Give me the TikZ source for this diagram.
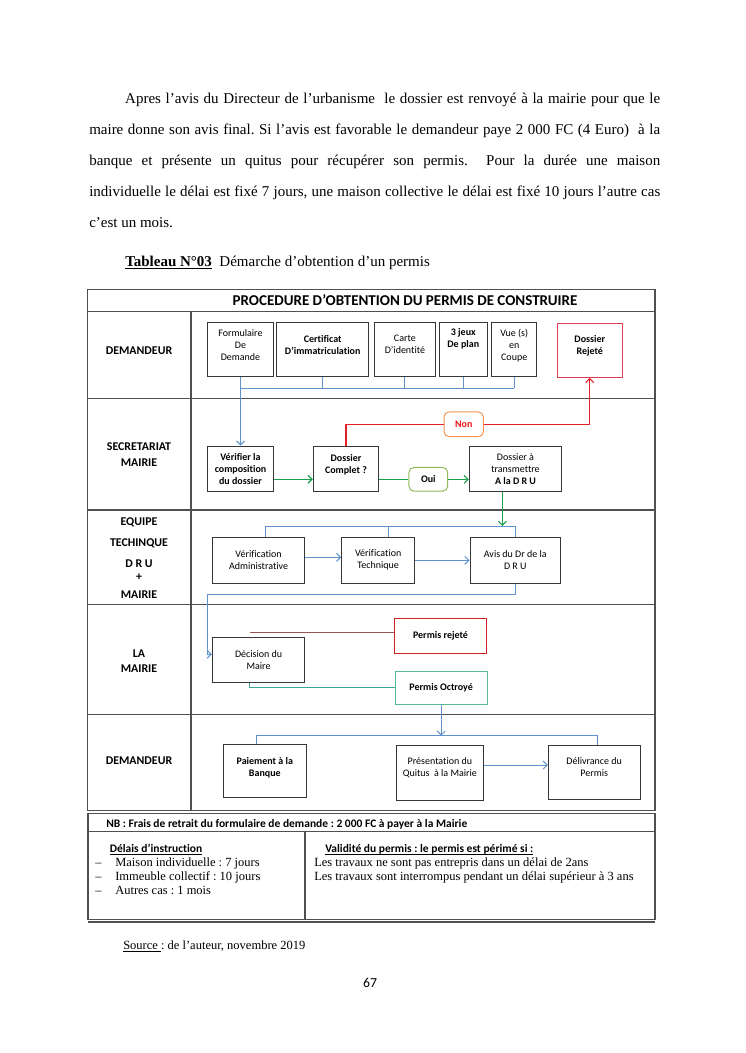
\documentclass[tikz,border=0pt]{standalone}
\usepackage{fontspec}
\setmainfont[Ligatures={TeX,NoCommon}]{Liberation Serif}
\newfontfamily\calibri[Ligatures=NoCommon]{Carlito}
\usetikzlibrary{arrows.meta}
\definecolor{boxgray}{RGB}{55,55,55}
\definecolor{framegray}{RGB}{80,80,80}
\definecolor{lineblue}{RGB}{95,145,205}
\definecolor{linegreen}{RGB}{25,160,75}
\definecolor{linered}{RGB}{228,30,40}
\definecolor{linebrown}{RGB}{150,85,80}
\definecolor{lineteal}{RGB}{60,165,150}
\definecolor{rejred}{RGB}{225,60,80}
\definecolor{prejred}{RGB}{210,35,35}
\definecolor{octgreen}{RGB}{85,185,150}
\definecolor{nonorange}{RGB}{240,150,80}
\definecolor{nonred}{RGB}{240,20,20}
\definecolor{ouigreen}{RGB}{145,185,90}
\newcommand{\lift}[1]{\rule[-#1]{0pt}{#1}}
\newcommand{\ul}[1]{\underline{\smash{#1}}}
\frenchspacing

\begin{document}
\begin{tikzpicture}[x=0.8pt,y=-0.8pt,>={Straight Barb[length=3.2pt,width=6.4pt]},
  every node/.style={inner sep=0pt},
  sz/.style 2 args={minimum width=#1*0.8pt,minimum height=#2*0.8pt},
  box/.style={draw=boxgray,line width=0.8pt,align=center,font=\calibri\fontsize{8}{9.6}\selectfont},
  boxb/.style={box,font=\calibri\bfseries\fontsize{8}{9.6}\selectfont},
  tag/.style={boxb,rounded corners=4pt},
  lab/.style={align=center,font=\calibri\bfseries\fontsize{9.5}{12.8}\selectfont},
  frame/.style={draw=framegray,line width=0.9pt},
  blueline/.style={draw=lineblue,line width=0.8pt},
  greenline/.style={draw=linegreen,line width=0.9pt},
  redline/.style={draw=linered,line width=0.9pt},
  brownline/.style={draw=linebrown,line width=0.8pt},
  tealline/.style={draw=lineteal,line width=0.8pt},
  body/.style={font=\fontsize{12}{24.8}\selectfont},
  note/.style={font=\fontsize{10}{12}\selectfont},
  nbtxt/.style={font=\calibri\bfseries\fontsize{9.2}{11}\selectfont}]
\fill[white] (0,0) rectangle (745,1053);
\useasboundingbox (0,0) rectangle (745,1053);

\node[body,anchor=north west,text width=456.8pt,align=justify] (para) at (89,93) {%
\hspace*{28.8pt}Apres l’avis du Directeur de l’urbanisme\ \ le dossier est renvoyé à la mairie pour que le\linebreak
maire donne son avis final. Si l’avis est favorable le demandeur paye 2~000 FC (4 Euro)\ \ à la\linebreak
banque et présente un quitus pour récupérer son permis.\ \ Pour la durée une maison\linebreak
individuelle le délai est fixé 7 jours, une maison collective le délai est fixé 10 jours l’autre cas\linebreak
c’est un mois.};
\node[body,anchor=base west] (tabl) at (125,266) {\underline{\textbf{Tableau N°03}}\ \ Démarche d’obtention d’un permis};

\draw[frame] (87.5,289.3) rectangle (655,810.5);
\draw[frame] (87.5,311.7) -- (655,311.7);
\draw[frame] (191,311.7) -- (191,810.5);
\foreach \y in {398.3,510,604.3,714.5}
  \draw[frame] (87.5,\y) -- (655,\y);

\node[font=\calibri\bfseries\fontsize{12}{14}\selectfont] (ttl) at (405,300.5) {PROCEDURE D’OBTENTION DU PERMIS DE CONSTRUIRE};
\node[lab] (lab1) at (139,351) {DEMANDEUR};
\node[lab] (lab2) at (139,454.7) {SECRETARIAT\\MAIRIE};
\node[lab,font=\calibri\bfseries\fontsize{9.5}{16.8}\selectfont] (lab3) at (139,558) {EQUIPE\\TECHINQUE\\D R U\\[-6.6pt]+\\[-2.2pt]MAIRIE};
\node[lab,font=\calibri\bfseries\fontsize{9.5}{12}\selectfont] (lab4) at (139,660.8) {LA\\MAIRIE};
\node[lab] (lab5) at (139,761) {DEMANDEUR};

\node[box,sz={65.6}{54}] (form) at (240.5,349.7) {Formulaire\\De\\Demande\lift{8pt}};
\node[boxb,sz={92}{54}] (cert) at (322.7,349.7) {Certificat\\D’immatriculation\lift{8pt}};
\node[box,sz={61.7}{54}] (carte) at (404.9,349.7) {Carte\\D’identité\lift{8pt}};
\node[boxb,sz={48}{54}] (jeux) at (463.3,349.7) {3 jeux\\De plan\lift{19pt}};
\node[box,sz={45}{54}] (vue) at (514.2,349.7) {Vue (s)\\en\\Coupe\lift{8pt}};
\node[boxb,draw=rejred,sz={65}{54}] (rej) at (589.8,350.3) {Dossier\\Rejeté\lift{8pt}};

\node[boxb,sz={65.4}{45.7}] (verif) at (240.5,468.9) {Vérifier la\\composition\\du dossier};
\node[boxb,sz={65.4}{45.7}] (complet) at (346,468.9) {Dossier\\Complet ?\lift{8pt}};
\node[box,sz={92.4}{45}] (transm) at (515.5,469.2) {Dossier à\\transmettre\\\textbf{A la D R U}};
\node[tag,draw=nonorange,text=nonred,sz={39.3}{24.7}] (non) at (463.7,424.3) {Non};
\node[tag,draw=ouigreen,sz={38.7}{23.7}] (oui) at (428.3,479.3) {Oui};

\node[box,sz={92.5}{46}] (va) at (258.6,560.3) {Vérification\\Administrative};
\node[box,sz={73}{46}] (vt) at (378.2,560.3) {Vérification\\Technique};
\node[box,sz={90.6}{46}] (avis) at (515.3,560.3) {Avis du Dr de la\\D R U};

\node[boxb,draw=prejred,sz={92.5}{35}] (prej) at (440.5,635.8) {Permis rejeté};
\node[box,sz={92.5}{45}] (dec) at (258.6,659.8) {Décision du\\Maire};
\node[boxb,draw=octgreen,sz={92.4}{33.3}] (poct) at (441.2,687.7) {Permis Octroyé};

\node[boxb,sz={82.8}{53.4}] (pai) at (264.8,771) {Paiement à la\\Banque\lift{7pt}};
\node[box,sz={86.2}{54.3}] (pres) at (439.9,772.9) {Présentation du\\Quitus\ \ à la Mairie\lift{9pt}};
\node[box,sz={91.6}{54.3}] (deliv) at (594.2,772.2) {Délivrance du\\Permis\lift{8pt}};

\coordinate (bus1) at (240.5,388.3);
\coordinate (bus2) at (265.3,526);
\coordinate (turn1) at (207.5,594.3);
\coordinate (rejend) at (250,632.3);
\coordinate (bus3) at (256.7,735.7);

\draw[blueline] (form.south |- bus1) -- (vue.south |- bus1);
\foreach \n in {cert,carte,jeux,vue}
  \draw[blueline] (\n.south) -- (\n.south |- bus1);
\draw[blueline,->] (form.south) -- (verif.north);
\draw[greenline,->] ([yshift=-8.3pt]verif.east) -- ([yshift=-8.3pt]complet.west);
\draw[greenline] (oui.west -| complet.east) -- (oui.west);
\draw[greenline,->] (oui.east) -- (oui.east -| transm.west);
\draw[redline] (complet.north) |- (non.west);
\draw[redline,->] (non.east) -| (rej.south);
\draw[greenline,->] ([xshift=-10.5pt]transm.south) -- ([xshift=-10.5pt]transm.south |- bus2);
\draw[blueline] ([xshift=5.4pt]va.north) |- (avis.north |- bus2) -- (avis.north);
\draw[blueline] ([xshift=8pt]vt.north) -- ([xshift=8pt]vt.north |- bus2);
\draw[blueline,->] ([yshift=2.4pt]va.east) -- ([yshift=2.4pt]vt.west);
\draw[blueline,->] (vt.east) -- (avis.west);
\draw[blueline,->] (avis.south) |- (turn1) |- ([yshift=4.4pt]dec.west);
\draw[brownline] (rejend) -- (rejend -| prej.west);
\draw[tealline] ([xshift=-6.9pt]dec.south) |- (poct.west);
\draw[blueline,->] (poct.south) -- (poct.south |- bus3);
\draw[blueline] ([xshift=-6.5pt]pai.north) |- ([xshift=2.7pt]deliv.north |- bus3) -- ([xshift=2.7pt]deliv.north);
\draw[blueline,->] ([yshift=6.3pt]pres.east) -- ([yshift=6.3pt]pres.east -| deliv.west);

\draw[frame] (88,813.3) rectangle (655,919.5);
\draw[frame] (88,831.7) -- (655,831.7);
\draw[frame] (305,831.7) -- (305,919.5);
\draw[frame,line width=1.3pt] (88,922.3) -- (655,922.3);
\node[nbtxt,anchor=base west] (nb) at (106,827) {NB : Frais de retrait du formulaire de demande : 2 000 FC à payer à la Mairie};
\node[nbtxt,anchor=base west] (delai) at (109.6,852.5) {\ul{Délais d’instruction}};
\node[note,anchor=base west] (d1) at (95,866.5) {–\hspace{11pt}Maison individuelle : 7 jours};
\node[note,anchor=base west] (d2) at (95,880.5) {–\hspace{11pt}Immeuble collectif : 10 jours};
\node[note,anchor=base west] (d3) at (95,894) {–\hspace{11pt}Autres cas : 1 mois};
\node[nbtxt,anchor=base west] (valid) at (325,852.5) {\ul{Validité du permis : le permis est périmé si :}};
\node[note,anchor=base west] (v1) at (314,866.5) {Les travaux ne sont pas entrepris dans un délai de 2ans};
\node[note,anchor=base west] (v2) at (314,880.5) {Les travaux sont interrompus pendant un délai supérieur à 3 ans};

\node[note,anchor=base west] (src) at (123,949) {\underline{Source }: de l’auteur, novembre 2019};
\node[font=\calibri\fontsize{11}{13}\selectfont,anchor=base] (pg) at (370,987) {67};
\end{tikzpicture}
\end{document}
